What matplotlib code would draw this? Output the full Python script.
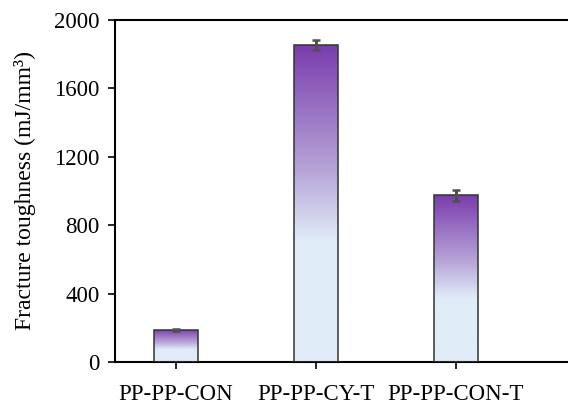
import numpy as np
import matplotlib.pyplot as plt
from matplotlib.colors import LinearSegmentedColormap

plt.rcParams['font.family'] = ['Liberation Serif', 'DejaVu Serif']

# data
samples = ['PP-PP-CON', 'PP-PP-CY-T', 'PP-PP-CON-T']
toughness = [188, 1852, 975]
toughness_err = [8, 30, 32]

# purple on top, pale blue in the lower part of every bar
cmap = LinearSegmentedColormap.from_list(
    'bar', [(0.0, '#e0ecf8'), (0.38, '#e0ecf8'), (0.6, '#b8a6d8'), (1.0, '#7a3dae')])

fig = plt.figure(figsize=(5.68, 4.05), dpi=100)
ax = fig.add_axes([0.2025, 0.106, 0.7975, 0.845])

x = np.arange(len(samples))
width = 0.31
bars = ax.bar(x, toughness, width, color='none', edgecolor='#333333', linewidth=1.1, zorder=3)

grad = np.linspace(0, 1, 256).reshape(-1, 1)
for b in bars:
    x0, y0 = b.get_x(), b.get_y()
    im = ax.imshow(grad, cmap=cmap, origin='lower', aspect='auto', zorder=2,
                   extent=[x0, x0 + b.get_width(), y0, y0 + b.get_height()])
    im.set_clip_path(b)

ax.errorbar(x, toughness, yerr=toughness_err, fmt='none', ecolor='#505050',
            elinewidth=2.2, capsize=3, capthick=1.8, zorder=4)

ax.set_xlim(-0.436, 2.8)
ax.set_ylim(0, 2000)
ax.set_yticks([0, 400, 800, 1200, 1600, 2000])
ax.set_xticks(x)
ax.set_xticklabels(samples)
ax.set_ylabel('Fracture toughness (mJ/mm³)', fontsize=17, labelpad=13)

ax.tick_params(axis='both', labelsize=16.5, direction='out', length=5, width=1.2)
ax.tick_params(axis='x', pad=11)
ax.tick_params(axis='y', pad=6)
ax.spines['right'].set_visible(False)
for s in ['left', 'bottom', 'top']:
    ax.spines[s].set_linewidth(1.5)

fig.savefig('out.png', dpi=100)
